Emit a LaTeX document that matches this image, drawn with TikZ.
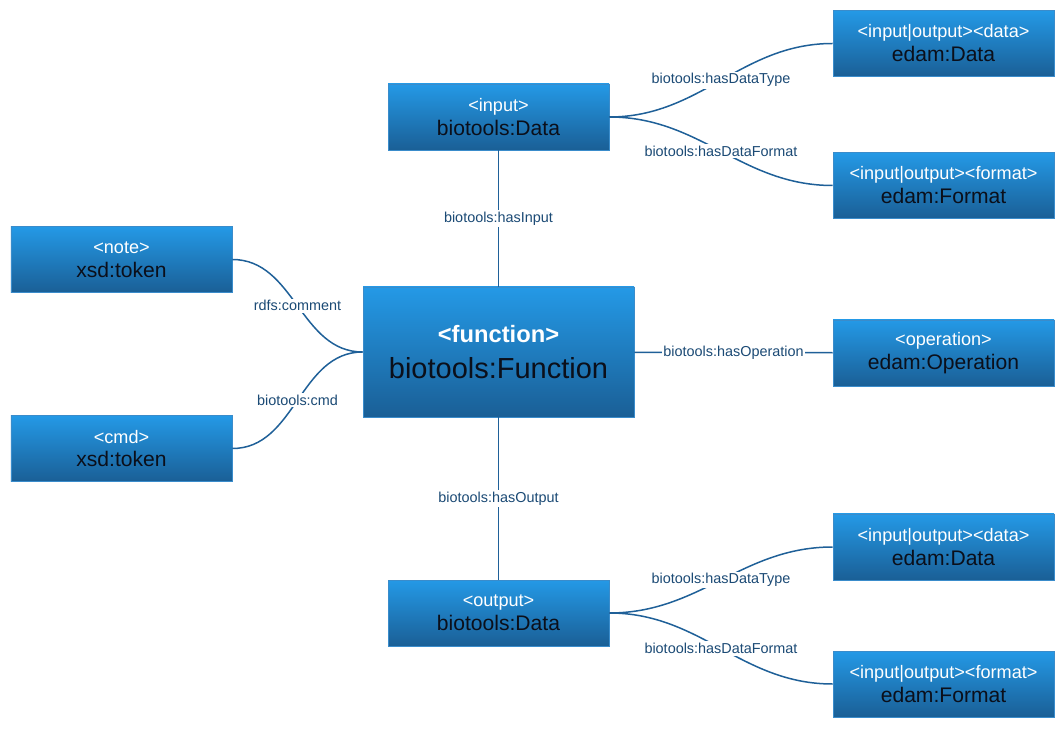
\documentclass[tikz,border=0pt]{standalone}
\usepackage{fontspec}
\setmainfont{Liberation Sans}
\usepackage{xcolor}

\definecolor{boxtop}{HTML}{2499E6}
\definecolor{boxbot}{HTML}{1A5F96}
\definecolor{boxline}{HTML}{3A8CCB}
\definecolor{edgeblue}{HTML}{1F6098}
\definecolor{lblblue}{HTML}{1B4A75}
\definecolor{typeink}{HTML}{0B0F1A}

\newcommand{\enttext}[2]{{\fontsize{10.3}{13.6}\selectfont\textcolor{white}{#1}}\\{\fontsize{12}{13.6}\selectfont\textcolor{typeink}{#2}}}

\begin{document}
\begin{tikzpicture}[x=0.2mm, y=-0.2mm,
    entity/.style={draw=boxline, top color=boxtop, bottom color=boxbot, minimum width=44.2mm, minimum height=13.2mm, inner sep=0pt, align=center, font=\fontsize{10.3}{13.6}\selectfont},
    bigentity/.style={entity, minimum width=54.2mm, minimum height=26mm, font=\fontsize{13.5}{20.4}\selectfont},
    rel/.style={draw=edgeblue, line width=0.3mm},
    rellabel/.style={fill=white, text=lblblue, inner sep=1pt, font=\fontsize{8.2}{9}\selectfont}]
    \useasboundingbox (0,0) rectangle (1064,729);

    % central function
    \node[bigentity] (func) at (498.5,352) {{\bfseries\textcolor{white}{<function>}}\\{\fontsize{16.5}{20.4}\selectfont\textcolor{typeink}{biotools:Function}}};

    % input / output data
    \node[entity] (indata) at (498.5,117) {\enttext{<input>}{biotools:Data}};
    \node[entity] (outdata) at (498.5,613) {\enttext{<output>}{biotools:Data}};

    % note and cmd
    \node[entity] (note) at (121.5,259.5) {\enttext{<note>}{xsd:token}};
    \node[entity] (cmd) at (121.5,448.5) {\enttext{<cmd>}{xsd:token}};

    % edam terms
    \node[entity] (intype) at (943.5,43.5) {\enttext{<input|output><data>}{edam:Data}};
    \node[entity] (informat) at (943.5,185.5) {\enttext{<input|output><format>}{edam:Format}};
    \node[entity] (op) at (943.5,353) {\enttext{<operation>}{edam:Operation}};
    \node[entity] (outtype) at (943.5,547) {\enttext{<input|output><data>}{edam:Data}};
    \node[entity] (outformat) at (943.5,684) {\enttext{<input|output><format>}{edam:Format}};

    % relations
    \draw[rel] (func) -- node[rellabel]{biotools:hasInput} (indata);
    \draw[rel] (func) -- node[rellabel]{biotools:hasOutput} (outdata);
    \draw[rel] (func) -- node[rellabel]{biotools:hasOperation} (op);
    \draw[rel] (func.west) to[out=180,in=0] node[rellabel]{rdfs:comment} (note.east);
    \draw[rel] (func.west) to[out=180,in=0] node[rellabel]{biotools:cmd} (cmd.east);
    \draw[rel] (indata.east) to[out=0,in=180] node[rellabel]{biotools:hasDataType} (intype.west);
    \draw[rel] (indata.east) to[out=0,in=180] node[rellabel]{biotools:hasDataFormat} (informat.west);
    \draw[rel] (outdata.east) to[out=0,in=180] node[rellabel]{biotools:hasDataType} (outtype.west);
    \draw[rel] (outdata.east) to[out=0,in=180] node[rellabel]{biotools:hasDataFormat} (outformat.west);
\end{tikzpicture}
\end{document}
